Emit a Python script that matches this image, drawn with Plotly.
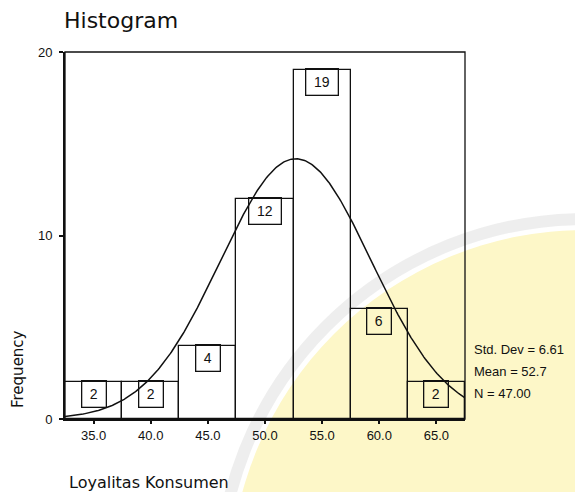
import numpy as np
import plotly.graph_objects as go

# Frequency table for "Loyalitas Konsumen"
bin_centers = [35, 40, 45, 50, 55, 60, 65]
frequencies = [2, 2, 4, 12, 19, 6, 2]
x_tick_labels = ["35.0", "40.0", "45.0", "50.0", "55.0", "60.0", "65.0"]
y_ticks = [0, 10, 20]
bin_width = 5

# Summary statistics printed beside the chart
std_dev = 6.61
mean_value = 52.7
n_total = 47
stats_lines = [f"Std. Dev = {std_dev:.2f}", f"Mean = {mean_value:.1f}", f"N = {n_total:.2f}"]

W, H = 575, 492
ML, MR, MT, MB = 65, 110, 52, 73
PW, PH = W - ML - MR, H - MT - MB
INK = "#111111"


def px(x):
    """pixel column -> paper x"""
    return (x - ML) / PW


def py(y):
    """pixel row -> paper y"""
    return (H - MB - y) / PH


fig = go.Figure()

fig.add_bar(
    x=bin_centers, y=frequencies, width=bin_width,
    marker=dict(color="rgba(0,0,0,0)", line=dict(color=INK, width=1.3)),
    hoverinfo="skip",
)

# fitted normal curve scaled to counts
lo = bin_centers[0] - bin_width / 2
hi = bin_centers[-1] + bin_width / 2
xs = np.linspace(lo, hi, 400)
ys = n_total * bin_width / (std_dev * np.sqrt(2 * np.pi)) * np.exp(-0.5 * ((xs - mean_value) / std_dev) ** 2)
fig.add_scatter(x=xs, y=ys, mode="lines", line=dict(color=INK, width=1.5), hoverinfo="skip")

# boxed count labels at the top of each bar
for c, f in zip(bin_centers, frequencies):
    txt = str(f)
    fig.add_annotation(
        x=c, y=f, xref="x", yref="y", text=txt, showarrow=False,
        yanchor="top", yshift=2,
        width=23 if len(txt) == 1 else 31, height=25,
        bordercolor=INK, borderwidth=1.3, borderpad=0,
        font=dict(family="Liberation Sans, Arial", size=14, color=INK),
    )

for i, line in enumerate(stats_lines):
    fig.add_annotation(
        x=px(472), y=py(349 + 22 * i), xref="paper", yref="paper",
        text=line, showarrow=False, xanchor="left", yanchor="middle",
        font=dict(family="Liberation Sans, Arial", size=13, color=INK),
    )

fig.add_annotation(
    x=px(62), y=py(21), xref="paper", yref="paper", text="Histogram",
    showarrow=False, xanchor="left", yanchor="middle",
    font=dict(family="DejaVu Sans", size=22, color=INK),
)
fig.add_annotation(
    x=px(18), y=py(369), xref="paper", yref="paper", text="Frequency",
    showarrow=False, textangle=-90, xanchor="center", yanchor="middle",
    font=dict(family="DejaVu Sans", size=15, color=INK),
)
fig.add_annotation(
    x=px(67), y=py(482), xref="paper", yref="paper", text="Loyalitas Konsumen",
    showarrow=False, xanchor="left", yanchor="middle",
    font=dict(family="DejaVu Sans", size=16, color=INK),
)

# faint emblem in the background
cx, cy, r = 585, 585, 355
fig.add_shape(type="circle", xref="paper", yref="paper", layer="below",
              x0=px(cx - r), x1=px(cx + r), y0=py(cy + r), y1=py(cy - r),
              fillcolor="rgb(253,247,200)", line=dict(width=0))
r2 = 366
fig.add_shape(type="circle", xref="paper", yref="paper", layer="below",
              x0=px(cx - r2), x1=px(cx + r2), y0=py(cy + r2), y1=py(cy - r2),
              fillcolor="rgba(0,0,0,0)", line=dict(color="rgba(205,205,205,0.35)", width=12))

# plot frame
fig.add_shape(type="rect", xref="paper", yref="paper", x0=0, x1=1, y0=0, y1=1,
              line=dict(color=INK, width=1.3), layer="above")

fig.update_layout(
    width=W, height=H,
    margin=dict(l=ML, r=MR, t=MT, b=MB, pad=0),
    paper_bgcolor="white", plot_bgcolor="rgba(0,0,0,0)",
    showlegend=False, bargap=0,
    font=dict(family="Liberation Sans, Arial", size=13, color=INK),
    xaxis=dict(
        range=[lo, hi], tickvals=bin_centers, ticktext=x_tick_labels,
        ticks="outside", ticklen=3, tickwidth=2, tickcolor=INK,
        showline=True, linecolor=INK, linewidth=2,
        showgrid=False, zeroline=False, fixedrange=True,
        tickfont=dict(family="Liberation Sans, Arial", size=13, color=INK),
    ),
    yaxis=dict(
        range=[0, 20], tickvals=y_ticks, ticktext=[str(v) for v in y_ticks],
        ticks="outside", ticklen=4, tickwidth=1.5, tickcolor=INK,
        showline=True, linecolor=INK, linewidth=2,
        showgrid=False, zeroline=False, fixedrange=True,
        ticklabelstandoff=4,
        tickfont=dict(family="Liberation Sans, Arial", size=13, color=INK),
    ),
)

fig.write_html("out.html", config={"displayModeBar": False})
